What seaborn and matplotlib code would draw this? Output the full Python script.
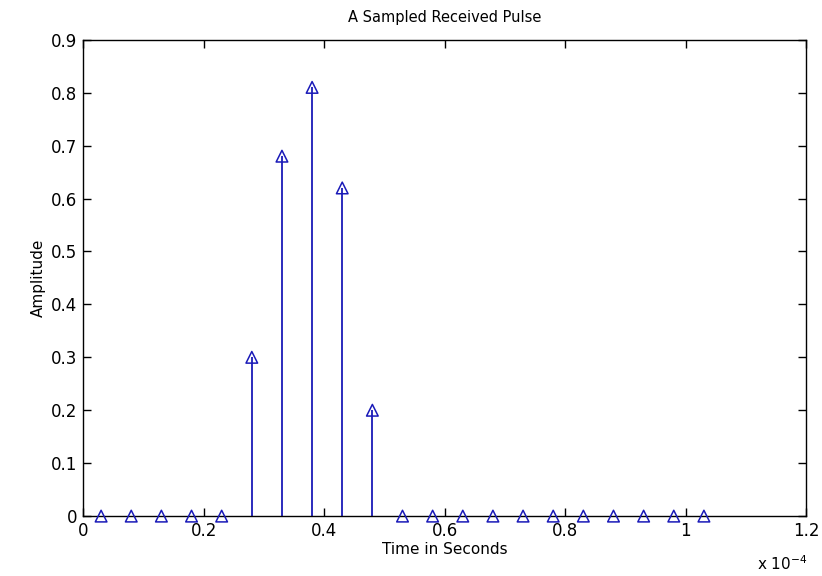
import matplotlib
matplotlib.use("Agg")
import matplotlib.pyplot as plt
from matplotlib.ticker import FuncFormatter
import seaborn as sns
import pandas as pd

# Sample instants (seconds) and received amplitudes
time_s = [0.03e-4, 0.08e-4, 0.13e-4, 0.18e-4, 0.23e-4, 0.28e-4, 0.33e-4,
          0.38e-4, 0.43e-4, 0.48e-4, 0.53e-4, 0.58e-4, 0.63e-4, 0.68e-4,
          0.73e-4, 0.78e-4, 0.83e-4, 0.88e-4, 0.93e-4, 0.98e-4, 1.03e-4]
amplitude = [0, 0, 0, 0, 0, 0.30, 0.68,
             0.81, 0.62, 0.20, 0, 0, 0, 0,
             0, 0, 0, 0, 0, 0, 0]

x_ticks = [0, 0.2e-4, 0.4e-4, 0.6e-4, 0.8e-4, 1.0e-4, 1.2e-4]
y_ticks = [0, 0.1, 0.2, 0.3, 0.4, 0.5, 0.6, 0.7, 0.8, 0.9]

df = pd.DataFrame({"t": time_s, "a": amplitude})

sns.set_style("ticks")
plt.rcParams["font.family"] = ["DejaVu Sans"]
plt.rcParams["text.color"] = "black"
plt.rcParams["axes.labelcolor"] = "black"

stem_color = "#1a1ab8"

fig = plt.figure(figsize=(8.22, 5.76), dpi=100)
ax = fig.add_axes([0.101, 0.104, 0.880, 0.827])

# stems from zero up to each sample
ax.vlines(df["t"], 0, df["a"], color=stem_color, linewidth=1.3, zorder=2)

# open triangle markers at each sample
sns.scatterplot(data=df, x="t", y="a", ax=ax, marker="^", s=70,
                facecolor="none", edgecolor=stem_color, linewidth=1.1,
                zorder=3, clip_on=False, legend=False)

ax.set_xlim(0, 1.2e-4)
ax.set_ylim(0, 0.9)
ax.set_xticks(x_ticks)
ax.set_yticks(y_ticks)
ax.xaxis.set_major_formatter(FuncFormatter(lambda v, p: f"{v * 1e4:g}"))
ax.yaxis.set_major_formatter(FuncFormatter(lambda v, p: f"{v:g}"))

ax.tick_params(direction="in", length=6, width=1, top=True, right=True,
               labelsize=12, colors="black", pad=4)
for sp in ax.spines.values():
    sp.set_visible(True)
    sp.set_color("black")
    sp.set_linewidth(1)

ax.set_title("A Sampled Received Pulse", fontsize=10.5, pad=13, color="black")
ax.set_xlabel("Time in Seconds", fontsize=11, labelpad=2)
ax.set_ylabel("Amplitude", fontsize=11, labelpad=4)

fig.text(0.952, 0.006, r"x 10$^{-4}$", fontsize=11, ha="center",
         va="bottom", color="black")

fig.savefig("out.png", dpi=100, facecolor="white")
